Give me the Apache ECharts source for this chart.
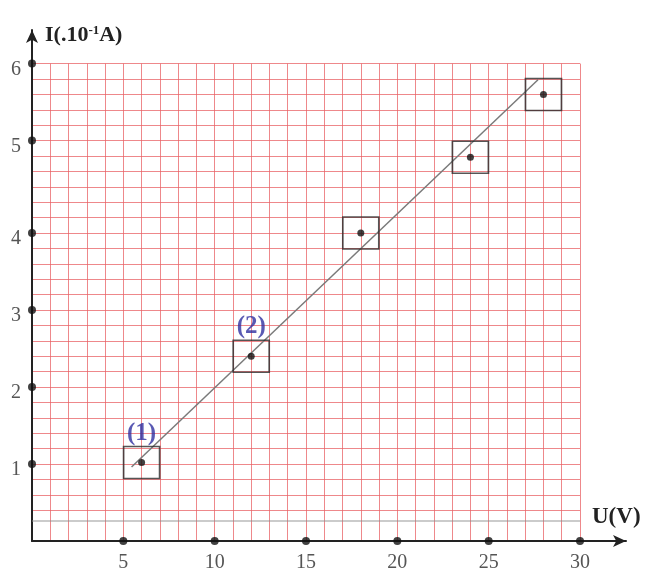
<!DOCTYPE html>
<html>
<head>
<meta charset="utf-8">
<script src="https://cdn.jsdelivr.net/npm/echarts@6/dist/echarts.min.js"></script>
<style>
  html, body { margin: 0; padding: 0; background: #fff; }
  #chart { width: 646px; height: 576px; }
</style>
</head>
<body>
<div id="chart"></div>
<script>
// Measurements: voltage U (V) and current I (x10^-1 A)
const U = [6, 12, 18, 24, 28];
const I = [1.02, 2.4, 4.0, 4.82, 5.6];
const pointTags = ['(1)', '(2)', '', '', ''];

// Straight line drawn through the measurements (two end points)
const fitU = [5.45, 27.7];
const fitI = [0.96, 5.79];

// Axis graduations
const xTicks = [5, 10, 15, 20, 25, 30];
const yTickLabels = ['1', '2', '3', '4', '5', '6'];
const yTicks = [1, 2, 3, 4, 5, 6];

// The current axis is graduated by hand on squared paper: each unit spans
// five small squares, except the 4 -> 5 span which covers six.
const yGrad = [0, 1, 2, 3, 4, 5, 6];
const yGradPos = [0, 1, 2, 3, 4, 5.2, 6.2];

function toAxis(v) {
  for (let k = 0; k < yGrad.length - 1; k++) {
    if (v <= yGrad[k + 1] || k === yGrad.length - 2) {
      const t = (v - yGrad[k]) / (yGrad[k + 1] - yGrad[k]);
      return yGradPos[k] + t * (yGradPos[k + 1] - yGradPos[k]);
    }
  }
  return v;
}

const points = U.map((u, i) => [u, toAxis(I[i])]);
const fitLine = fitU.map((u, i) => [u, toAxis(fitI[i])]);
const xTickDots = xTicks.map(u => [u, 0]);
const yTickDots = yTicks.map(v => [0, toAxis(v)]);
const yLabelPos = yTicks.map(v => toAxis(v));

const serif = '"Liberation Serif", "DejaVu Serif", serif';
const paperRed = 'rgba(232,96,100,0.75)';
const chart = echarts.init(document.getElementById('chart'));

const hidden = { axisLine: { show: false }, axisTick: { show: false }, axisLabel: { show: false } };

chart.setOption({
  animation: false,
  backgroundColor: '#ffffff',
  grid: [
    // squared paper: vertical rulings and the grey base ruling
    { left: 32, top: 63.6, width: 548, height: 477.4 },
    // squared paper: horizontal rulings
    { left: 32, top: 63.6, width: 548, height: 446.6 },
    // axes and measurements
    { left: 32, top: 30, width: 594, height: 511 }
  ],
  xAxis: [
    Object.assign({ gridIndex: 0, type: 'value', min: 0, max: 30, interval: 1,
      splitLine: { show: true, lineStyle: { color: paperRed, width: 1 } } }, hidden),
    Object.assign({ gridIndex: 1, type: 'value', min: 0, max: 30, interval: 1,
      splitLine: { show: false } }, hidden),
    {
      gridIndex: 2, type: 'value', min: 0, max: 594 / 18.267, interval: 5,
      name: 'U(V)', nameLocation: 'end', nameGap: -34,
      nameTextStyle: {
        fontFamily: serif, fontWeight: 'bold', fontSize: 23, color: '#222',
        align: 'left', verticalAlign: 'bottom', padding: [0, 0, 12, 0]
      },
      axisLine: {
        show: true, symbol: ['none', 'arrow'], symbolSize: [9, 13],
        lineStyle: { color: '#222', width: 2 }
      },
      axisTick: { show: false },
      axisLabel: {
        margin: 12, fontFamily: serif, fontSize: 20, color: '#555',
        formatter: v => (Math.abs(v - Math.round(v)) < 1e-6 && xTicks.indexOf(Math.round(v)) >= 0) ? String(Math.round(v)) : ''
      },
      splitLine: { show: false }
    }
  ],
  yAxis: [
    Object.assign({ gridIndex: 0, type: 'value', min: 0, max: 6.2, interval: 0.2,
      splitLine: { show: false } }, hidden),
    Object.assign({ gridIndex: 1, type: 'value', min: 0.4, max: 6.2, interval: 0.2,
      splitLine: { show: true, lineStyle: { color: paperRed, width: 1 } } }, hidden),
    {
      gridIndex: 2, type: 'value', min: 0, max: 511 / 77, interval: 0.2,
      name: 'I(.10{s|-1}A)', nameLocation: 'end', nameGap: -5,
      nameTextStyle: {
        fontFamily: serif, fontWeight: 'bold', fontSize: 22, color: '#222',
        align: 'left', verticalAlign: 'middle', padding: [0, 0, 0, 13],
        rich: { s: { fontFamily: serif, fontWeight: 'bold', fontSize: 13, color: '#222', padding: [0, 0, 9, 0] } }
      },
      axisLine: {
        show: true, symbol: ['none', 'arrow'], symbolSize: [9, 13],
        lineStyle: { color: '#222', width: 2 }
      },
      axisTick: { show: false },
      axisLabel: {
        interval: 0, margin: 11, fontFamily: serif, fontSize: 20, color: '#555',
        verticalAlign: 'top', lineHeight: 12,
        formatter: v => {
          const k = yLabelPos.findIndex(p => Math.abs(p - v) < 1e-6);
          return k >= 0 ? yTickLabels[k] : '';
        }
      },
      splitLine: { show: false }
    }
  ],
  series: [
    {
      // grey base ruling of the paper
      type: 'line', xAxisIndex: 0, yAxisIndex: 0, data: [[0, 0.26], [30, 0.26]],
      symbol: 'none', silent: true, lineStyle: { color: 'rgba(140,140,140,0.9)', width: 1.2 }, z: 2
    },
    {
      type: 'line', xAxisIndex: 2, yAxisIndex: 2, data: fitLine,
      symbol: 'none', lineStyle: { color: '#7a7a7a', width: 1.5 }, z: 3
    },
    {
      type: 'scatter', xAxisIndex: 2, yAxisIndex: 2, data: points,
      symbol: 'rect', symbolSize: [36, 32],
      itemStyle: { color: 'rgba(0,0,0,0)', borderColor: '#2a2a2a', borderWidth: 1.6 },
      label: {
        show: true, position: 'top', distance: 0,
        formatter: p => pointTags[p.dataIndex],
        fontFamily: serif, fontWeight: 'bold', fontSize: 25, color: '#2f2fa0'
      },
      z: 4
    },
    {
      type: 'scatter', xAxisIndex: 2, yAxisIndex: 2, data: points,
      symbol: 'circle', symbolSize: 7, itemStyle: { color: '#111' }, z: 5
    },
    {
      type: 'scatter', xAxisIndex: 2, yAxisIndex: 2, data: xTickDots.concat(yTickDots),
      symbol: 'circle', symbolSize: 8, itemStyle: { color: '#111' }, clip: false, z: 6
    }
  ]
});
</script>
</body>
</html>
